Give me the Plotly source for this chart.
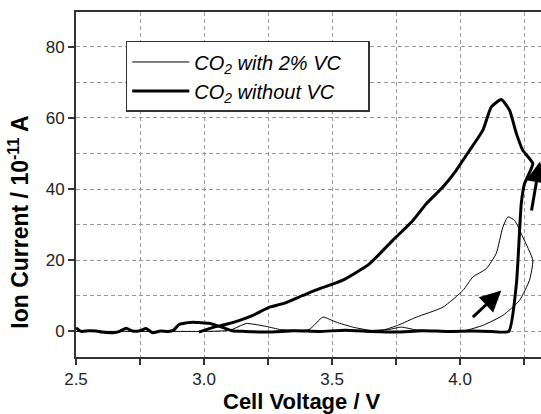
import plotly.graph_objects as go

# Thick curve: CO2 without VC (voltage V, ion current 1e-11 A)
v_without = [2.50, 2.52, 2.55, 2.58, 2.60, 2.644, 2.67, 2.696, 2.72, 2.75, 2.774, 2.80, 2.83, 2.86, 2.88,
             2.904, 2.93, 2.956, 2.99, 3.02, 3.048, 3.08, 3.11, 3.16, 3.25, 3.35, 3.45, 3.55, 3.65, 3.75,
             3.85, 3.95, 4.05, 4.12, 4.19, 4.22, 4.239, 4.252, 4.284, 4.245, 4.22, 4.193, 4.161, 4.122, 4.089,
             4.037, 3.985, 3.933, 3.868, 3.816, 3.737, 3.646, 3.542, 3.451, 3.386, 3.308, 3.256, 3.191,
             3.139, 3.087, 3.04, 3.009, 2.98]
i_without = [1.0, 0.0, 0.2, 0.1, -0.2, -0.4, 0.0, 0.9, 0.1, 0.2, 0.8, -0.4, 0.1, 0.0, 0.3,
             2.0, 2.4, 2.6, 2.4, 2.3, 1.7, 0.9, 0.2, 0.0, -0.2, 0.2, 0.0, 0.3, 0.0, -0.2,
             0.2, 0.0, 0.1, 0.0, 0.0, 13.4, 36.0, 41.6, 47.2, 50.9, 55.6, 62.2, 65.2, 63.1, 56.6,
             50.9, 45.3, 40.6, 35.9, 31.2, 25.6, 19.0, 14.4, 12.0, 10.1, 7.8, 6.8, 4.5,
             3.1, 2.0, 1.2, 0.5, -0.2]

# Thin curve: CO2 with 2% VC
v_with = [2.50, 2.70, 2.90, 3.00, 3.10, 3.165, 3.243, 3.30, 3.41, 3.464, 3.516, 3.581, 3.65, 3.72,
          3.77, 3.83, 3.90, 4.00, 4.024, 4.089, 4.167, 4.232, 4.271, 4.284, 4.245, 4.213, 4.187,
          4.167, 4.141, 4.102, 4.05, 4.011, 3.933, 3.829, 3.76, 3.70, 3.60]
i_with = [0.0, 0.0, 0.0, 0.0, 0.3, 2.2, 1.4, 0.5, 0.5, 4.0, 2.6, 1.2, 0.3, 0.5,
          1.2, 0.4, 0.2, 0.2, 0.3, 1.7, 4.5, 8.7, 14.4, 20.0, 26.5, 31.2, 32.2,
          29.3, 21.9, 17.6, 15.3, 11.5, 6.8, 4.0, 1.8, 0.4, 0.2]

# Direction arrows: (tail_v, tail_i, head_v, head_i)
arrows = [(4.044, 3.6, 4.161, 11.5), (4.278, 33.6, 4.312, 47.8)]

FONT = "Liberation Sans, Arial, Helvetica, sans-serif"
PAD = "\u00a0\u00a0\u00a0\u00a0"

fig = go.Figure()
fig.add_trace(go.Scatter(x=v_with, y=i_with, mode="lines",
                         line=dict(color="black", width=1, shape="spline", smoothing=0.5),
                         name="<i>CO<sub>2</sub> with 2% VC</i>" + PAD))
fig.add_trace(go.Scatter(x=v_without, y=i_without, mode="lines",
                         line=dict(color="black", width=3, shape="spline", smoothing=0.5),
                         name="<i>CO<sub>2</sub> without VC</i>"))

for tv, ti, hv, hi in arrows:
    fig.add_annotation(x=hv, y=hi, ax=tv, ay=ti, xref="x", yref="y", axref="x", ayref="y",
                       showarrow=True, arrowhead=2, arrowsize=1.4, arrowwidth=3,
                       arrowcolor="black", text="")

fig.add_annotation(text="<b>Ion Current / 10<sup>-11</sup> A</b>", xref="paper", yref="paper",
                   x=-0.122, y=0.39, textangle=-90, showarrow=False,
                   font=dict(size=23, color="black", family=FONT), xanchor="center", yanchor="middle")
fig.add_annotation(text="<b>Cell Voltage / V</b>", xref="paper", yref="paper",
                   x=0.485, y=-0.128, showarrow=False,
                   font=dict(size=22, color="black", family=FONT), xanchor="center", yanchor="middle")

GRID = dict(showgrid=True, gridcolor="#999999", gridwidth=1, griddash="4px,3px")

fig.update_layout(
    width=541, height=414,
    margin=dict(l=76, r=0, t=12, b=57),
    paper_bgcolor="white", plot_bgcolor="white",
    font=dict(family=FONT, size=17, color="#222"),
    showlegend=True,
    legend=dict(x=0.107, y=0.916, xanchor="left", yanchor="top",
                bordercolor="#333", borderwidth=1.5, bgcolor="white",
                font=dict(size=20, color="black", family=FONT),
                tracegroupgap=0, itemwidth=57),
    xaxis=dict(range=[2.5, 4.316], tickmode="linear", tick0=2.5, dtick=0.5,
               tickformat=".1f",
               ticks="outside", ticklen=6, tickwidth=1.5, tickcolor="#333",
               showline=True, linecolor="#333", linewidth=2, mirror=True,
               minor=dict(tick0=2.5, dtick=0.25, ticks="outside", ticklen=6, tickcolor="#333", **GRID),
               zeroline=False, **GRID),
    yaxis=dict(range=[-7.2, 89.8], tickmode="linear", tick0=0, dtick=20,
               ticks="outside", ticklen=6, tickwidth=1.5, tickcolor="#333",
               showline=True, linecolor="#333", linewidth=2, mirror=False,
               minor=dict(tick0=0, dtick=10, **GRID),
               zeroline=False, **GRID),
)

fig.write_html("out.html")
